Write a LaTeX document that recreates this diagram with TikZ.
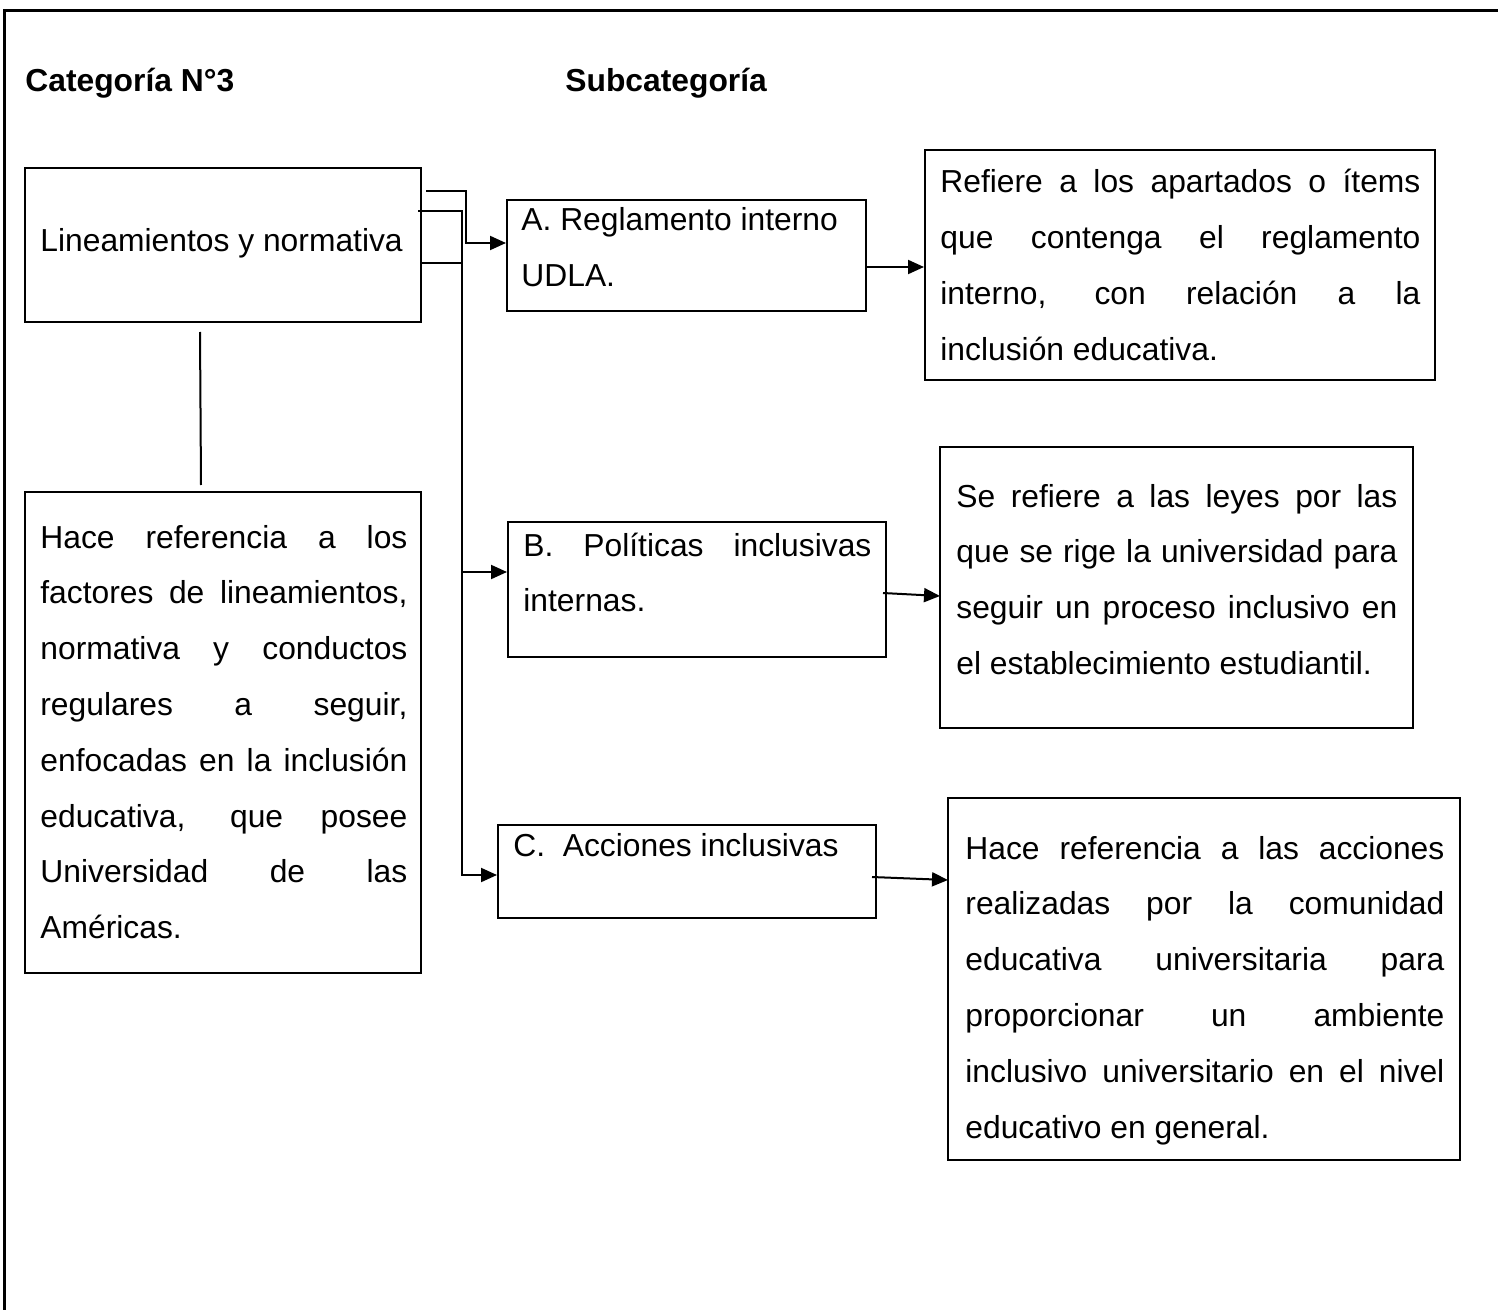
\documentclass[tikz,border=0pt]{standalone}
\usepackage{fontspec}
\setmainfont{Liberation Sans}
\usetikzlibrary{arrows.meta,fit}
\newcommand\jl[1]{\makebox[\linewidth][s]{#1}}
\tikzset{
  boxst/.style={draw, line width=1pt, inner sep=0pt, fit={#1}},
  txt/.style={anchor=base west, inner sep=0pt, font=\fontsize{15.9}{27.9}\selectfont},
  ttl/.style={anchor=base west, inner sep=0pt, font=\fontsize{15.9}{27.9}\selectfont\bfseries},
  conn/.style={line width=1pt},
  arr/.style={line width=1pt, -{Triangle[length=8pt,width=7pt]}},
  frame/.style={line width=1.5pt}
}
\begin{document}
\begin{tikzpicture}[x=0.5pt,y=-0.5pt]
\useasboundingbox (0,0) rectangle (1498,1310);
% outer frame
\coordinate (fr1) at (1498,11);
\coordinate (fr2) at (4,11);
\coordinate (fr3) at (4,1310);
\draw[frame] (fr1) -- (fr2) -- (fr3);
% titles
\node[ttl] (cat) at (25,92) {Categoría N°3};
\node[ttl] (sub) at (565,92) {Subcategoría};
% boxes
\node[boxst={(25,168) (421,322)}] (b1) {};
\node[boxst={(25,492) (421,973)}] (hd) {};
\node[boxst={(507,200) (866,311)}] (bA) {};
\node[boxst={(925,150) (1435,380)}] (dA) {};
\node[boxst={(508,522) (886,657)}] (bB) {};
\node[boxst={(940,447) (1413,728)}] (dB) {};
\node[boxst={(498,825) (876,918)}] (bC) {};
\node[boxst={(948,798) (1460,1160)}] (dC) {};
% texts
\node[txt] (t1) at (40,252) {Lineamientos y normativa};
\node[txt] (thd) at (40,548) {\parbox[t]{183.5pt}{%
\jl{Hace referencia a los}\\
\jl{factores de lineamientos,}\\
\jl{normativa y conductos}\\
\jl{regulares a seguir,}\\
\jl{enfocadas en la inclusión}\\
\jl{educativa, que posee}\\
\jl{Universidad de las}\\
Américas.}};
\node[txt] (tA) at (521,231) {\parbox[t]{170pt}{A. Reglamento interno\\UDLA.}};
\node[txt] (tdA) at (940,193) {\parbox[t]{240pt}{%
\jl{Refiere a los apartados o ítems}\\
\jl{que contenga el reglamento}\\
\jl{interno, con relación a la}\\
inclusión educativa.}};
\node[txt] (tB) at (523,556) {\parbox[t]{174pt}{%
\jl{B. Políticas inclusivas}\\
internas.}};
\node[txt] (tdB) at (956,507) {\parbox[t]{220.5pt}{%
\jl{Se refiere a las leyes por las}\\
\jl{que se rige la universidad para}\\
\jl{seguir un proceso inclusivo en}\\
el establecimiento estudiantil.}};
\node[txt] (tC) at (513,856) {C.~ Acciones inclusivas};
\node[txt] (tdC) at (965,859) {\parbox[t]{239.5pt}{%
\jl{Hace referencia a las acciones}\\
\jl{realizadas por la comunidad}\\
\jl{educativa universitaria para}\\
\jl{proporcionar un ambiente}\\
\jl{inclusivo universitario en el nivel}\\
educativo en general.}};
% connectors
\coordinate (v1top) at (200,332);
\coordinate (v1bot) at (201,485);
\draw[conn] (v1top) -- (v1bot);
\coordinate (c1s) at (426,191);
\coordinate (c1m) at (466,191);
\coordinate (c1b) at (466,243);
\draw[arr] (c1s) -- (c1m) -- (c1b) -- (bA.west |- c1b);
\coordinate (c2s) at (418,211);
\coordinate (c2m) at (462,211);
\coordinate (c2b) at (462,875);
\coordinate (c2j) at (462,572);
\draw[arr] (c2s) -- (c2m) -- (c2b) -- (bC.west |- c2b);
\draw[arr] (c2j) -- (bB.west |- c2j);
\coordinate (c3s) at (421,263);
\coordinate (c3e) at (462,263);
\draw[conn] (c3s) -- (c3e);
\coordinate (aAs) at (866,267);
\draw[arr] (aAs) -- (dA.west |- aAs);
\coordinate (aBs) at (883,593);
\coordinate (aBe) at (940,596);
\draw[arr] (aBs) -- (aBe);
\coordinate (aCs) at (872,877);
\coordinate (aCe) at (948,880);
\draw[arr] (aCs) -- (aCe);
\end{tikzpicture}
\end{document}
